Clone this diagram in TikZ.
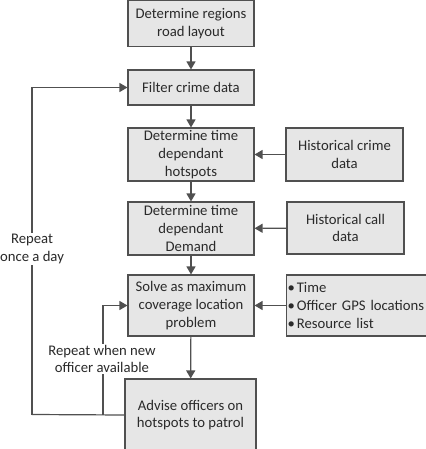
\documentclass[tikz,border=0pt]{standalone}
\usepackage{fontspec}
\setmainfont{Carlito}
\usetikzlibrary{arrows.meta,shadows}
\definecolor{boxfill}{HTML}{E6E6E6}
\definecolor{boxline}{HTML}{505050}
\definecolor{txt}{HTML}{2A2A2A}
\begin{document}
\begin{tikzpicture}[x=1pt,y=-1pt,
  font=\fontsize{14.7}{17.7}\selectfont,text=txt,
  box/.style={draw=boxline,line width=1.1pt,fill=boxfill,align=center,inner sep=0pt,
     drop shadow={shadow xshift=1pt,shadow yshift=-1pt,opacity=0.25}},
  arr/.style={draw=boxline,line width=1.2pt,-{Triangle[length=8pt,width=9pt]}},
  lnk/.style={draw=boxline,line width=1.2pt},
  lbl/.style={fill=white,align=center,inner sep=1pt}]
\useasboundingbox (0,0) rectangle (425,449);
\node[box,minimum width=126pt,minimum height=46pt] (b1) at (191,23.5) {Determine regions\\road layout};
\node[box,minimum width=126pt,minimum height=35pt] (b2) at (191,87.5) {Filter crime data};
\node[box,minimum width=126pt,minimum height=53pt] (b3) at (191,154.5) {Determine time\\dependant\\hotspots};
\node[box,minimum width=117pt,minimum height=53pt] (hc) at (344.5,154.5) {Historical crime\\data};
\node[box,minimum width=126pt,minimum height=53pt] (b4) at (191,228.5) {Determine time\\dependant\\Demand};
\node[box,minimum width=117pt,minimum height=52pt] (hcall) at (345.5,228) {Historical call\\data};
\node[box,minimum width=126pt,minimum height=61pt] (b5) at (191,305.5) {Solve as maximum\\coverage location\\problem};
\node[box,minimum width=140pt,minimum height=61pt,align=left,text width=136pt] (lst) at (356.5,305.5)
  {\hspace{-1pt}\textbullet\hspace{2pt}Time\\\hspace{-1pt}\textbullet\hspace{2pt}Officer GPS locations\\\hspace{-1pt}\textbullet\hspace{2pt}Resource list};
\node[box,minimum width=131pt,minimum height=72pt] (b6) at (190.5,415) {Advise officers on\\hotspots to patrol};
\draw[arr] (b1) -- (b2);
\draw[arr] (b2) -- (b3);
\draw[arr] (b3) -- (b4);
\draw[arr] (b4) -- (b5);
\draw[arr] (b5) -- (b6);
\draw[arr] (hc) -- (b3);
\draw[arr] (hcall) -- (b4);
\draw[arr] (lst.west) -- (b5.east);
\coordinate (c1) at (32,414.5);
\coordinate (c2) at (103,414.5);
\draw[lnk] (b6.west) -- (c1);
\draw[arr] (c1) |- (b2.west);
\draw[arr] (c2) |- (b5.west);
\node[lbl] (l1) at (32,249) {Repeat\\once a day};
\node[lbl] (l2) at (102,359) {Repeat when new\\officer available};
\end{tikzpicture}
\end{document}
